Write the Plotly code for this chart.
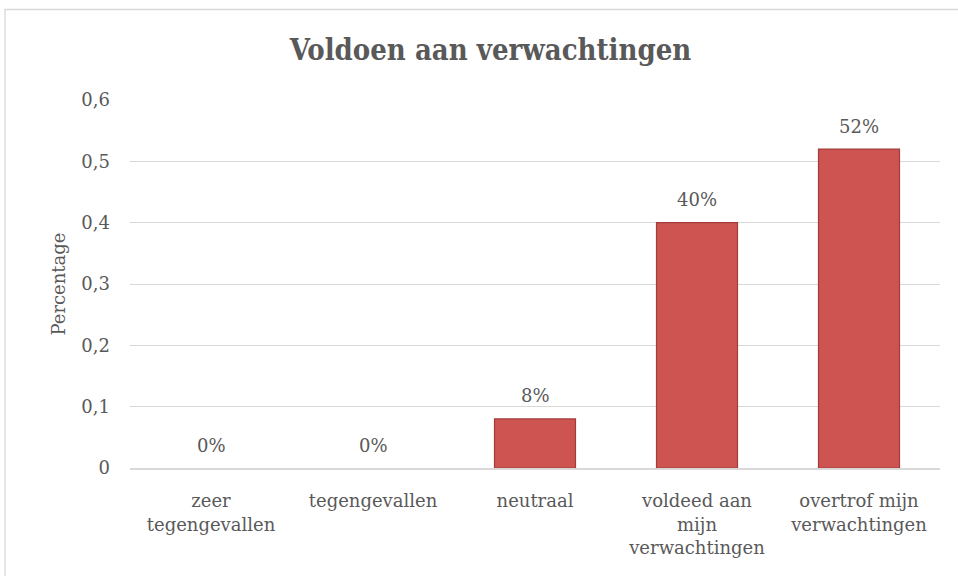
import plotly.graph_objects as go

categories = ["zeer<br>tegengevallen", "tegengevallen", "neutraal",
              "voldeed aan<br>mijn<br>verwachtingen", "overtrof mijn<br>verwachtingen"]
values = [0.0, 0.0, 0.08, 0.40, 0.52]
labels = ["0%", "0%", "8%", "40%", "52%"]
y_ticks = [0, 0.1, 0.2, 0.3, 0.4, 0.5, 0.6]
y_ticktext = ["0", "0,1", "0,2", "0,3", "0,4", "0,5", "0,6"]

FONT = "DejaVu Serif"
GREY = "#595959"
FS = 18

fig = go.Figure()
fig.add_trace(go.Bar(
    x=categories, y=values,
    marker=dict(color="#CD5451",
                line=dict(color="#A23C3A", width=[1.2 if v > 0 else 0 for v in values])),
    cliponaxis=False, hoverinfo="x+y",
))

for c, v, t in zip(categories, values, labels):
    fig.add_annotation(x=c, y=v, text=t, showarrow=False, yanchor="middle",
                       yshift=23, font=dict(family=FONT, size=FS, color=GREY))

L, R, T, B = 130, 18, 100, 108
W, H = 958, 576
pw, ph = W - L - R, H - T - B

fig.update_layout(
    width=W, height=H,
    margin=dict(l=L, r=R, t=T, b=B),
    paper_bgcolor="white", plot_bgcolor="white",
    bargap=0.5, showlegend=False,
    title=dict(text="<b>Voldoen aan verwachtingen</b>", x=0.512, xanchor="center",
               y=1 - 50 / H, yanchor="middle",
               font=dict(family="DejaVu Serif Condensed", size=29, color=GREY)),
    font=dict(family=FONT, size=FS, color=GREY),
    shapes=[dict(type="rect", xref="paper", yref="paper",
                 x0=(5 - L) / pw, x1=(975 - L) / pw,
                 y0=(H - B - 600) / ph, y1=(H - B - 9.5) / ph,
                 line=dict(color="#D9D9D9", width=1.3), layer="below")],
)
fig.update_yaxes(range=[0, 0.6], tickvals=y_ticks, ticktext=y_ticktext,
                 showgrid=True, gridcolor="#D9D9D9", gridwidth=1.3,
                 zeroline=False, showline=False, ticklabelstandoff=19,
                 tickfont=dict(family=FONT, size=FS, color=GREY),
                 title=dict(text="Percentage", standoff=11,
                            font=dict(family=FONT, size=FS, color=GREY)))
fig.update_xaxes(showline=True, linecolor="#D9D9D9", linewidth=1.5,
                 ticks="", ticklabelstandoff=16,
                 tickfont=dict(family=FONT, size=FS, color=GREY))

fig.write_html("out.html", config={"displayModeBar": False},
               post_script="document.body.style.margin='0';document.body.style.overflow='hidden';")
